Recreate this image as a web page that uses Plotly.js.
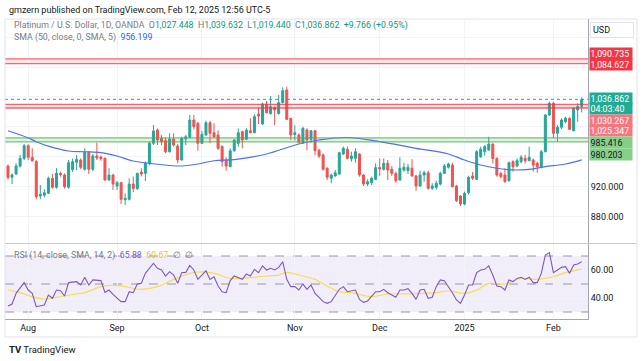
<!DOCTYPE html>
<html><head><meta charset="utf-8">
<script src="https://cdn.plot.ly/plotly-3.0.1.min.js"></script>
<style>html,body{margin:0;padding:0;background:#fff;}#chart{width:643px;height:361px;}</style>
</head><body><div id="chart"></div>
<script>
// ---- trading calendar (weekdays, Jul 25 2024 – Feb 12 2025, OANDA closed Dec 25 / Jan 1)
const holidays = ['2024-12-25','2025-01-01'];
const firstDay = '2024-07-25', lastDay = '2025-02-12';
const dates = [];
for (let d = new Date(firstDay + 'T00:00:00Z'); d <= new Date(lastDay + 'T00:00:00Z'); d.setUTCDate(d.getUTCDate() + 1)) {
  const wd = d.getUTCDay(), s = d.toISOString().slice(0, 10);
  if (wd !== 0 && wd !== 6 && !holidays.includes(s)) dates.push(s);
}
const tickDates = ['2024-08-01','2024-09-02','2024-10-01','2024-11-01','2024-12-02','2025-01-02','2025-02-03'];
const tickText = ['Aug','Sep','Oct','Nov','Dec','2025','Feb'];

// ---- OHLC
const openP = [948,933,937.3,948,958.2,975,959.6,953.8,908,909,
 911.6,931.6,919.6,938,936,919.6,943,953,956,943.6,
 966,943.6,961.3,960,958.2,929.3,936,921.3,925.7,903,
 903.6,924,918,940,938.2,951.6,978.2,996,985,981.8,
 967,984,974.7,956,984,986.2,1009.3,1004.9,978.2,989.3,
 1005.7,992.4,989.3,973.8,956,947.1,968.4,978.2,993.8,983.6,
 995,992.4,1017,1004,1030.7,1018,1026,1018,1032.4,1049.3,
 1011.6,990,989.3,979,996,983.6,995,969,962.7,945,
 931.6,934.7,937.3,964,970.2,957.7,958.2,964,936,924,
 925.7,930.2,946,943.6,951.6,943.6,938.2,929.3,942.7,942,
 945,934.7,921.3,936,939,918.2,919.6,924,938.2,946.3,
 949.3,921.3,908,897.3,912.4,934.7,930.2,960.4,967,969.3,
 977.3,958,938,936,928.4,953.8,948,953.8,958.2,955,
 956,951.6,946.3,967,1016,1031.6,991.6,999.6,1007,1011.6,
 995,1022.7,1027.448];
const highP = [950,938,951.6,962.7,977.3,977,971.6,956,922.7,917,
 933.8,937.3,945,940.4,938.2,956,958,962.7,958,971.6,
 968,964,979,962,959.5,945,937.3,928,927,911.6,
 931.6,934,939,945,954,980.4,1002.7,998,989,986,
 991.6,991.6,977.3,987,989.3,1016,1016,1006.7,994.7,1008.4,
 1008.4,1004.9,995.5,975.6,959.6,971.6,984,998.2,995.1,998.2,
 1011.6,1017,1026,1032.4,1034.7,1041.3,1027.4,1042.7,1052.9,1053.8,
 1011.6,1002,991.6,1000.4,998.2,996,996,971,964.9,946.3,
 938,942.7,967,973.8,973.8,967,971.6,965,937.3,930.2,
 933.8,951.6,958.2,958.2,956,948,940.4,959.6,952.4,950.7,
 957,936,941.8,941.8,941.8,925,928.4,940.4,950.7,952.4,
 952.4,922.7,909.3,913.8,935,940,969.3,973.8,976,987,
 978.2,959.6,940.4,945,953.8,955.6,958.2,962.7,962.7,973.8,
 958.2,953.8,969.3,1017.3,1033.8,1033.8,1002.7,1011.6,1013.8,1012.9,
 1026.2,1031.6,1039.632];
const lowP = [930,924,936,946,956,956,953.8,903.6,903.6,906,
 910.7,917.8,917.8,933.8,917.8,917.8,940,942.7,944,941.8,
 937.3,941,956,955,928.4,928.5,916,916,897.3,896,
 902,913,916,934,928,949,976,976,976,965,
 966,973.8,951.6,955,976,985,996.9,968.4,977.3,988.4,
 978.2,985.6,969.3,947.1,941.8,946.3,967,973.8,971.6,982.7,
 991.6,991.6,1004,1003,1018,1016.4,1002.7,1016.4,1031.6,1009.3,
 982.7,982,978.2,977.3,969,979,962.7,958.7,941.8,929.3,
 924.9,933.8,936,962.7,956.9,953.8,952.4,933.8,921.3,921.3,
 922.7,929.3,934.7,941.8,929.3,934.7,925.7,928.4,940.4,937.3,
 933.8,915,920.4,927,916.4,916,916.4,922,937.3,944.5,
 919.6,900,894.7,895.6,910,929.3,929.3,958.7,962,968.4,
 951.6,933.8,931.6,925.7,927,940.4,946.3,951.6,951.6,954.7,
 940.4,939,945,966.2,1014.7,985,980.4,997.3,1004.9,996,
 994.2,1007,1019.44];
const closeP = [932.4,936,948,958.2,975,959.6,955,907,910,912.4,
 931.6,919.6,938.2,936.4,920.4,952.4,953.8,956.9,946.3,966.2,
 943.6,961.3,958.7,957.7,929.3,936,924,925.7,903.6,905,
 924,918,938.2,937.3,951.6,978.2,994.7,982.7,980.4,967,
 984,976,956,985,987,1009.3,1000.4,978.2,990.2,1005.7,
 991.6,987,971.6,953.8,948,968.4,982.7,992.4,982.7,996,
 992.4,1013.8,1014.7,1030.7,1019,1027,1022.7,1032.4,1048.4,1010.2,
 989.3,992.4,979,998.2,982.7,995,968.4,961.3,943.6,933,
 936,939,965.8,971.6,958.2,961.3,967,936,924,927,
 931.6,945.8,944,951.6,942.7,938.2,928.4,945,946.3,946.3,
 934.7,921.3,936,939,918.2,921.3,925,938.2,948,950.7,
 920.4,901.7,897.3,911.6,933,931.6,967,970.2,973.8,977.3,
 958,936,933.8,927,952.4,947,955.1,959.6,955,959.6,
 949.3,947.1,967,1016,1031.6,991.6,999.6,1009.3,1011.6,996.9,
 1024.9,1027.4,1036.862];

// ---- SMA 50 (read at sample bars, 1-based bar numbers)
const smaIdx = [1,6,8,11,16,20,24,28,32,36,44,48,52,57,65,73,78,85,93,102,110,114,118,122,126,130,134,139,143];
const smaVal = [995,985.5,980.4,974.5,968,967,965.8,961.3,954.7,951.6,948,950.7,955,956.5,964,977.3,982.7,986,980.4,971.6,964,956,949.3,945,942.7,943.6,947.1,950.7,956.199];

// ---- RSI 14 and its SMA
const rsiIdx = [1,2,3,5,6,7,8,10,11,12,13,14,15,16,18,19,20,21,22,24,25,26,27,29,30,31,32,33,34,35,37,38,39,40,41,42,43,44,45,46,47,48,49,50,51,52,53,54,55,56,57,59,60,61,62,63,64,65,66,67,68,69,70,71,72,73,74,75,76,77,78,79,80,81,83,84,85,86,87,88,89,90,92,93,94,95,97,98,99,100,101,102,103,104,105,106,107,108,109,111,112,113,114,115,116,117,118,119,120,121,122,123,124,125,126,127,128,129,130,131,132,133,134,135,136,137,138,139,140,141,142,143];
const rsiVal = [34.3,35.7,43.3,51,45.7,43.3,33.8,35,42.1,39.8,45.7,45.2,41.4,51,51.7,49.3,54.8,49.3,52.9,52.4,44,45.7,42.6,37.4,37.4,44.5,43.8,50,50.5,57.6,64.8,61.2,60,55.7,58.8,56.4,50.5,58.1,58.3,63.3,60,53.3,56.4,59.5,53.3,55.2,48.6,44.5,43.8,52.4,55.7,53.3,57.1,55.7,60.5,58.1,62.9,60,61.2,60,61.9,65.9,53.3,48.1,48.1,45.7,50,46.2,49.3,43.3,40.4,37.4,36.2,37.4,46.2,48.1,44.5,45.2,45.7,39,36.9,37.9,44.5,44.5,46.2,43.8,40.5,45.7,45.7,46.7,43.3,39,45.7,46.2,39.8,40.5,48.1,52.9,52.4,43.8,38.6,36.2,42.1,49.3,49.3,58.1,60,60.5,62.9,56.4,48.6,48.1,45.7,52.9,51.7,54,54.8,53.3,54.8,51,51,57.6,70.7,72.4,58.1,60,61.9,62.4,57.6,63.6,64.3,65.88];
const rsiMaIdx = [1,4,7,10,13,18,20,24,26,29,34,38,42,46,49,52,56,59,65,68,70,73,77,78,80,83,86,91,95,99,103,107,110,114,117,120,124,128,132,136,139,143];
const rsiMaVal = [45.7,43.8,40.9,39.3,40.5,42.9,43.8,48.1,49,48.6,46.2,48.1,53.3,57.6,58.6,57.6,54,54,55.7,56.4,58.3,56.4,53.3,51.7,48.6,44.5,43.8,40.9,42.9,42.9,43.3,43.8,45,43.3,45.7,50.5,50,54,53.3,55.2,58.1,60.67];

// ---- levels and labels
const redZones = [[1084.627,1090.735],[1025.347,1030.267]];
const greenZones = [[980.203,985.416]];
const lastPrice = 1036.862;
const countdown = '04:03:40';
const priceTicks = [880,920,960,1000,1040,1080,1120];
const priceTickText = ['880.000','920.000','','','','',''];
const rsiTicks = [40,60];
const rsiTickText = ['40.00','60.00'];
const rsiBands = [30,50,70];

const UP = '#26a69a', DN = '#ef5350';
const fmt = v => v.toLocaleString('en-US',{minimumFractionDigits:3,maximumFractionDigits:3});
const bx = i => dates[i-1];

const traces = [
  {type:'candlestick', x:dates, open:openP, high:highP, low:lowP, close:closeP, xaxis:'x', yaxis:'y',
   increasing:{line:{color:UP,width:1}, fillcolor:UP}, decreasing:{line:{color:DN,width:1}, fillcolor:DN},
   whiskerwidth:0, hoverinfo:'skip'},
  {type:'scatter', mode:'lines', x:smaIdx.map(bx), y:smaVal, xaxis:'x', yaxis:'y',
   line:{color:'#4d70f6', width:1.2, shape:'spline', smoothing:1}, hoverinfo:'skip'},
  {type:'scatter', mode:'lines', x:rsiMaIdx.map(bx), y:rsiMaVal, xaxis:'x', yaxis:'y2',
   line:{color:'#f3df4d', width:1.2, shape:'spline', smoothing:1}, hoverinfo:'skip'},
  {type:'scatter', mode:'lines', x:rsiIdx.map(bx), y:rsiVal, xaxis:'x', yaxis:'y2',
   line:{color:'#7e57c2', width:1.1}, hoverinfo:'skip'}
];

const shapes = [];
shapes.push({type:'rect', xref:'paper', yref:'y2', x0:0, x1:1, y0:rsiBands[0], y1:rsiBands[2], fillcolor:'rgba(126,87,194,0.1)', line:{width:0}, layer:'below'});
rsiBands.forEach(v => shapes.push({type:'line', xref:'paper', yref:'y2', x0:0, x1:1, y0:v, y1:v, line:{color:'#9598a1', width:1, dash:'dash'}, layer:'below'}));
redZones.forEach(z => {
  shapes.push({type:'rect', xref:'paper', yref:'y', x0:0, x1:1, y0:z[0], y1:z[1], fillcolor:'rgba(242,54,69,0.15)', line:{width:0}, layer:'below'});
  z.forEach(v => shapes.push({type:'line', xref:'paper', yref:'y', x0:0, x1:1, y0:v, y1:v, line:{color:'rgba(242,54,69,0.75)', width:1.3}, layer:'above'}));
});
greenZones.forEach(z => {
  shapes.push({type:'rect', xref:'paper', yref:'y', x0:0, x1:1, y0:z[0], y1:z[1], fillcolor:'rgba(76,175,80,0.18)', line:{width:0}, layer:'below'});
  z.forEach(v => shapes.push({type:'line', xref:'paper', yref:'y', x0:0, x1:1, y0:v, y1:v, line:{color:'rgba(76,175,80,0.75)', width:1.3}, layer:'above'}));
});
shapes.push({type:'line', xref:'paper', yref:'y', x0:0, x1:1, y0:lastPrice, y1:lastPrice, line:{color:'#26a69a', width:1, dash:'dot'}, layer:'above'});
shapes.push({type:'line', xref:'paper', yref:'paper', x0:0, x1:1.084, y0:0.2517, y1:0.2517, line:{color:'#c8cad0', width:1}});
shapes.push({type:'rect', xref:'paper', yref:'paper', x0:0, x1:1.084, y0:-0.06, y1:1, line:{color:'#e0e3eb', width:1}, fillcolor:'rgba(0,0,0,0)'});

const ann = [];
const A = (o) => ann.push(Object.assign({showarrow:false, xref:'paper', yref:'paper'}, o));
A({x:0.0034, y:1.03, xanchor:'left', yanchor:'middle', text:'gmzern published on TradingView.com, Feb 12, 2025 12:56 UTC-5', font:{size:9, color:'#131722'}});
const g = s => '<span style="color:#787b86">' + s + '</span>';
const t = s => '<span style="color:#089981">' + s + '</span>';
A({x:0.012, y:0.9767, xanchor:'left', yanchor:'middle', font:{size:8.8},
   text: g('Platinum / U.S. Dollar, 1D, OANDA  O') + t(fmt(openP[142])) + g('  H') + t(fmt(highP[142])) + g('  L') + t(fmt(lowP[142])) + g('  C') + t(fmt(closeP[142])) + t('  +9.766 (+0.95%)')});
A({x:0.012, y:0.9367, xanchor:'left', yanchor:'middle', font:{size:8.8},
   text: g('SMA (50, close, 0, SMA, 5)  ') + '<span style="color:#2962ff">' + smaVal[smaVal.length-1].toFixed(3) + '</span>'});
A({x:0.012, y:0.2133, xanchor:'left', yanchor:'middle', font:{size:8.8},
   text: g('RSI (14, close, SMA, 14, 2)  ') + '<span style="color:#7e57c2">' + rsiVal[rsiVal.length-1].toFixed(2) + '</span>  <span style="color:#e8c800">' + rsiMaVal[rsiMaVal.length-1].toFixed(2) + '</span>' + g('  ∅  ∅')});
A({x:1, xshift:2, y:0.965, xanchor:'left', yanchor:'middle', text:'USD', align:'left', width:38, bgcolor:'#fff', bordercolor:'#e0e3eb', borderwidth:1, borderpad:2, font:{size:9, color:'#131722'}});
// price labels
const P = (v, bg, fc, ys, txt) => ann.push({showarrow:false, xref:'paper', yref:'y', x:1, xshift:1, y:v, yshift:ys, xanchor:'left', yanchor:'middle', align:'left', width:41, height:10, text:(txt ? txt : fmt(v)), bgcolor:bg, borderpad:0.5, font:{size:8.8, color:fc}});
P(redZones[0][1], '#f23645', '#fff', 5.6);
P(redZones[0][0], '#f23645', '#fff', -0.5);
P(lastPrice, '#22ab94', '#fff', 0.5);
P(lastPrice, '#22ab94', '#fff', -9.5, countdown);
P(redZones[1][1], '#f7767e', '#fff', -16.3);
P(redZones[1][0], '#f7767e', '#fff', -22.8);
P(greenZones[0][1], '#86cf88', '#131722', -4.9);
P(greenZones[0][0], '#86cf88', '#131722', -12.6);
A({x:0.0034, y:-0.1, xanchor:'left', yanchor:'middle', text:'<b>TV</b> TradingView', font:{size:9.5, color:'#131722'}});

const layout = {
  width:643, height:361, margin:{l:5, r:55, t:19, b:42},
  paper_bgcolor:'#fff', plot_bgcolor:'#fff', showlegend:false,
  font:{family:'Roboto, "Liberation Sans", Arial, sans-serif', size:9, color:'#131722'},
  xaxis:{type:'category', categoryorder:'array', categoryarray:dates, range:[-0.74,143.56], anchor:'y2',
    tickvals:tickDates, ticktext:tickText, showgrid:true, gridcolor:'#f0f3fa', showline:true, linecolor:'#a3a6af',
    ticks:'', rangeslider:{visible:false}, tickfont:{size:9, color:'#131722'}, zeroline:false},
  yaxis:{domain:[0.2533,1], range:[845.3,1144], side:'right', anchor:'x', tickvals:priceTicks, ticktext:priceTickText,
    showgrid:true, gridcolor:'#f0f3fa', showline:true, linecolor:'#a3a6af', ticks:'', zeroline:false, tickfont:{size:9, color:'#131722'}},
  yaxis2:{domain:[0,0.25], range:[25,78.57], side:'right', anchor:'x', tickvals:rsiTicks, ticktext:rsiTickText,
    showgrid:true, gridcolor:'#f0f3fa', showline:true, linecolor:'#a3a6af', ticks:'', zeroline:false, tickfont:{size:9, color:'#131722'}},
  shapes:shapes, annotations:ann
};
Plotly.newPlot('chart', traces, layout, {staticPlot:true, displayModeBar:false});
</script>
</body></html>
